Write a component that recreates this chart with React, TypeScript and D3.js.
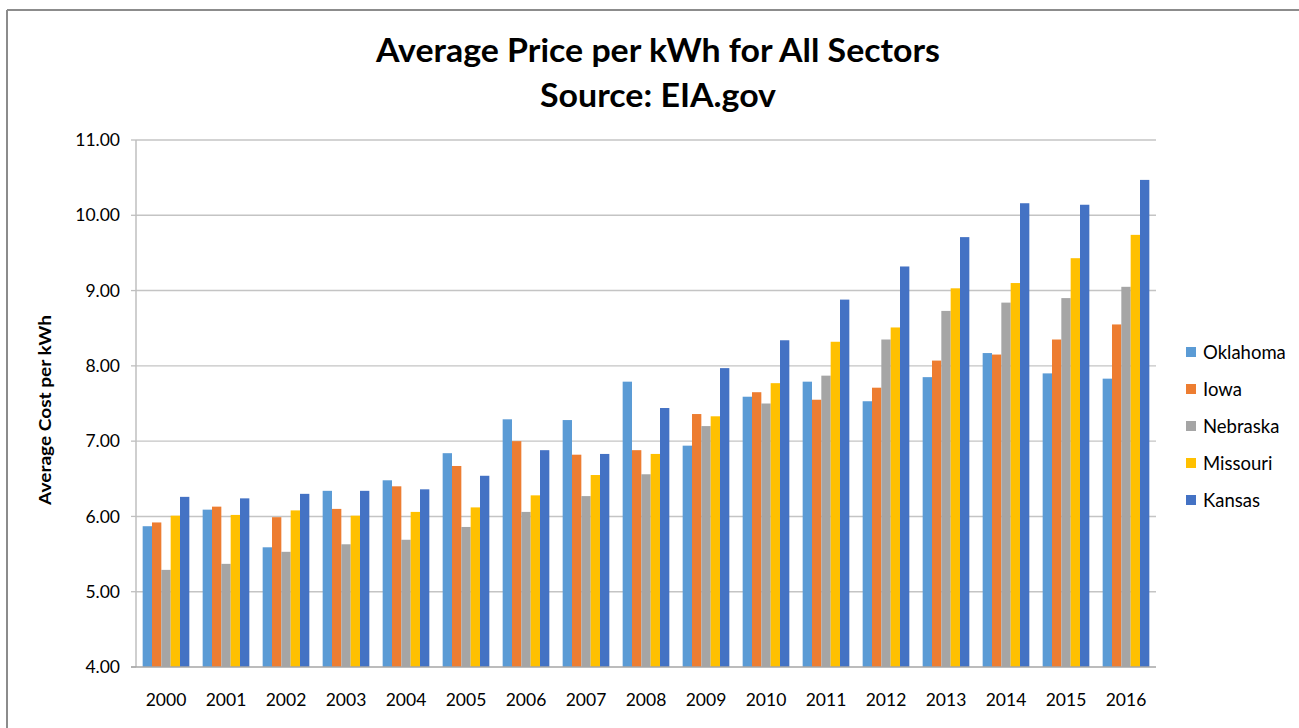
import React from 'react';
import * as d3 from 'd3';

const years = ['2000', '2001', '2002', '2003', '2004', '2005', '2006', '2007', '2008', '2009', '2010', '2011', '2012', '2013', '2014', '2015', '2016'];
const seriesNames = ['Oklahoma', 'Iowa', 'Nebraska', 'Missouri', 'Kansas'];
const seriesColors = ['#5B9BD5', '#ED7D31', '#A5A5A5', '#FFC000', '#4472C4'];
const oklahoma = [5.87, 6.09, 5.59, 6.34, 6.48, 6.84, 7.29, 7.28, 7.79, 6.94, 7.59, 7.79, 7.53, 7.85, 8.17, 7.90, 7.83];
const iowa = [5.92, 6.13, 5.99, 6.10, 6.40, 6.67, 7.00, 6.82, 6.88, 7.36, 7.65, 7.55, 7.71, 8.07, 8.15, 8.35, 8.55];
const nebraska = [5.29, 5.37, 5.53, 5.63, 5.69, 5.86, 6.06, 6.27, 6.56, 7.20, 7.50, 7.87, 8.35, 8.73, 8.84, 8.90, 9.05];
const missouri = [6.01, 6.02, 6.08, 6.01, 6.06, 6.12, 6.28, 6.55, 6.83, 7.33, 7.77, 8.32, 8.51, 9.03, 9.10, 9.43, 9.74];
const kansas = [6.26, 6.24, 6.30, 6.34, 6.36, 6.54, 6.88, 6.83, 7.44, 7.97, 8.34, 8.88, 9.32, 9.71, 10.16, 10.14, 10.47];
const yTicks = [4, 5, 6, 7, 8, 9, 10, 11];
const titleLine1 = 'Average Price per kWh for All Sectors';
const titleLine2 = 'Source: EIA.gov';
const yAxisTitle = 'Average Cost per kWh';

const seriesValues = [oklahoma, iowa, nebraska, missouri, kansas];

const W = 1299;
const H = 728;
const plotLeft = 136;
const plotRight = 1156;
const plotTop = 140;
const plotBottom = 667;
const FONT = 'Lato, "Open Sans", "DejaVu Sans", sans-serif';

export default function App() {
  const x0 = d3.scaleBand<string>().domain(years).range([plotLeft, plotRight]).paddingInner(0).paddingOuter(0);
  const bw = x0.bandwidth();
  const gap = bw * 0.111;
  const x1 = d3.scaleBand<string>().domain(seriesNames).range([gap, bw - gap]).padding(0);
  const y = d3.scaleLinear().domain([4, 11]).range([plotBottom, plotTop]);
  const fmt = d3.format('.2f');

  return (
    <svg width={W} height={H} style={{ position: 'absolute', left: 0, top: 0, background: '#fff' }} fontFamily={FONT}>
      <rect x={0} y={0} width={W} height={H} fill="#fff" />
      {/* frame */}
      <line x1={7} y1={10} x2={W} y2={10} stroke="#8c8c8c" strokeWidth={2} />
      <line x1={7} y1={10} x2={7} y2={H} stroke="#8c8c8c" strokeWidth={2} />

      {/* title */}
      <text x={658} y={62} textAnchor="middle" fontSize={32} fontWeight="bold" fill="#000" textLength={564} lengthAdjust="spacingAndGlyphs">{titleLine1}</text>
      <text x={658} y={107} textAnchor="middle" fontSize={32} fontWeight="bold" fill="#000" textLength={236} lengthAdjust="spacingAndGlyphs">{titleLine2}</text>

      {/* gridlines */}
      {yTicks.filter((t) => t > 4).map((t) => (
        <line key={'g' + t} x1={plotLeft} x2={plotRight} y1={y(t)} y2={y(t)} stroke="#c4c4c4" strokeWidth={1.4} />
      ))}

      {/* bars */}
      {years.map((yr, i) => (
        <g key={yr} transform={`translate(${x0(yr)},0)`}>
          {seriesNames.map((s, j) => {
            const v = seriesValues[j][i];
            return (
              <rect key={s} x={x1(s)} y={y(v)} width={x1.bandwidth()} height={y(4) - y(v)} fill={seriesColors[j]} />
            );
          })}
        </g>
      ))}

      {/* y axis */}
      <line x1={plotLeft} x2={plotLeft} y1={plotTop} y2={plotBottom} stroke="#bfbfbf" strokeWidth={1.5} />
      {yTicks.map((t) => (
        <g key={'t' + t}>
          <line x1={plotLeft - 5} x2={plotLeft} y1={y(t)} y2={y(t)} stroke="#bfbfbf" strokeWidth={1.3} />
          <text x={120} y={y(t)} dy="0.35em" textAnchor="end" fontSize={17.5} fill="#000">{fmt(t)}</text>
        </g>
      ))}
      {/* x axis */}
      <line x1={plotLeft - 5} x2={plotRight} y1={plotBottom} y2={plotBottom} stroke="#a6a6a6" strokeWidth={1.5} />
      {years.map((yr) => (
        <text key={'x' + yr} x={(x0(yr) as number) + bw / 2} y={706} textAnchor="middle" fontSize={17.5} fill="#000">{yr}</text>
      ))}

      {/* y axis title */}
      <text transform={`translate(51,410) rotate(-90)`} textAnchor="middle" fontSize={17} fontWeight="bold" fill="#000" textLength={190} lengthAdjust="spacingAndGlyphs">{yAxisTitle}</text>

      {/* legend */}
      {seriesNames.map((s, j) => (
        <g key={'l' + s} transform={`translate(1186,${352 + j * 37})`}>
          <rect x={0} y={-5} width={10} height={10} fill={seriesColors[j]} />
          <text x={17} y={0} dy="0.36em" fontSize={18.5} fill="#000">{s}</text>
        </g>
      ))}
    </svg>
  );
}
